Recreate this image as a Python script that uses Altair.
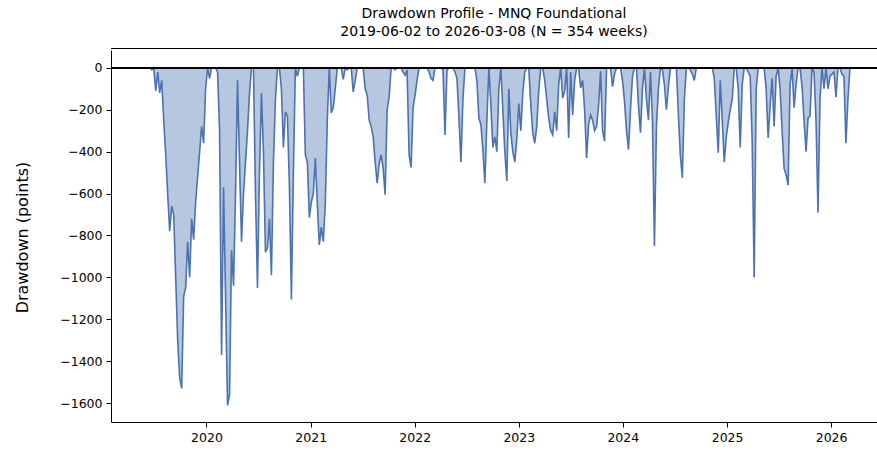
import altair as alt
import pandas as pd

# Weekly drawdown (points below the running equity peak), one list per calendar year
dd_2019 = [0, 0, 0, -10, 0, -110, -20, -120, -60, -250, -415, -605, -780, -660, -700,
           -1000, -1300, -1480, -1530, -1090, -1050, -830, -1000, -720, -820, -640, -520,
           -400, -280, -360, -100]
dd_2020 = [0, -50, 0, 0, 0, -20, -300, -1370, -570, -1100, -1610, -1560, -870, -1040,
           -600, -60, -450, -830, -600, -450, -300, -120, 0, 0, -600, -1050, -500, -120,
           -400, -880, -860, -720, -990, -450, -150, 0, 0, -100, -380, -210, -230, -560,
           -1105, -500, 0, -40, 0, 0, 0, -415, -450, -715]
dd_2021 = [-640, -600, -430, -650, -845, -760, -830, -650, -250, 0, -215, -190, -100, 0,
           0, 0, -55, 0, -10, 0, 0, -115, -60, 0, 0, 0, 0, -100, -130, -250, -280, -330,
           -450, -550, -460, -415, -480, -605, -200, -140, 0, 0, -10, 0, 0, 0, -20, -35,
           -10, -415, -475, -190]
dd_2022 = [-130, -60, 0, 0, 0, 0, 0, -20, -50, -60, 0, 0, 0, 0, -10, -320, -10, 0, 0, 0,
           -20, -50, -240, -450, -150, 0, 0, 0, 0, 0, 0, -60, -240, -270, -390, -550, -250,
           0, -175, -380, -330, -400, -100, 0, -200, -400, -540, -100, -310, -400, -450,
           -340]
dd_2023 = [-170, -300, -120, -20, 0, 0, -175, -310, -360, -280, -110, 0, 0, -60, -150,
           -240, -300, -320, -210, -300, -80, 0, -145, -110, 0, -335, -20, -225, -60, 0, 0,
           -95, -60, -200, -430, -270, -225, -250, -300, -280, -180, -15, -300, -350, 0, 0,
           0, -90, -30, 0, 0, 0]
dd_2024 = [-60, -160, -300, -390, -200, -40, 0, 0, -180, -310, -100, 0, -150, -250, -20,
           -250, -850, -280, -100, 0, -10, -80, -200, -90, 0, 0, 0, 0, -220, -420, -525,
           -150, 0, 0, -10, -30, -60, 0, 0, 0, 0, 0, 0, 0, 0, 0, -50, -230, -405, -60, -250,
           -450]
dd_2025 = [-330, -260, -200, -150, 0, 0, -100, -380, -80, 0, 0, -20, -40, -350, -1000,
           -100, 0, 0, 0, 0, -100, -335, -180, -50, -280, -40, 0, -100, -300, -480, -510,
           -560, -80, 0, -190, -80, 0, 0, -90, -250, -400, -240, -230, 0, -20, -250, -690,
           -150, 0, -100, 0, -100]
dd_2026 = [-40, -30, -20, -140, 0, 0, -30, -40, -360, -150, 0]

drawdown = dd_2019 + dd_2020 + dd_2021 + dd_2022 + dd_2023 + dd_2024 + dd_2025 + dd_2026
weeks = pd.date_range("2019-06-02", periods=len(drawdown), freq="7D")
df = pd.DataFrame({"week": weeks, "drawdown": drawdown})

year_ticks = [alt.DateTime(year=y, month=1, date=1) for y in range(2020, 2027)]
y_ticks = list(range(-1600, 1, 200))

FONT = "DejaVu Sans"
LINE = "#4C72B0"
PLOT_W, PLOT_H = 766, 372

x_enc = alt.X(
    "week:T",
    scale=alt.Scale(domain=[alt.DateTime(year=2019, month=1, date=31),
                            alt.DateTime(year=2026, month=6, date=11)]),
    axis=alt.Axis(values=year_ticks, format="%Y", title=None, grid=False,
                  domainColor="black", domainWidth=1, tickColor="black", tickWidth=1,
                  tickSize=5, labelFontSize=12.5, labelFont=FONT, labelColor="black",
                  labelPadding=4, labelFlush=False),
)
y_enc = alt.Y(
    "drawdown:Q",
    scale=alt.Scale(domain=[-1690, 85], nice=False, zero=False),
    axis=alt.Axis(values=y_ticks, format="d", title="Drawdown (points)", grid=False,
                  domainColor="black", domainWidth=1, tickColor="black", tickWidth=1,
                  tickSize=5, labelFontSize=12.5, labelFont=FONT, labelColor="black",
                  labelPadding=4, titleFont=FONT, titleFontSize=16,
                  titleFontWeight="normal", titleColor="black",
                  titleX=-81, titleY=PLOT_H / 2 + 1, titleAngle=270,
                  titleAlign="center", titleBaseline="bottom"),
)

base = alt.Chart(df)
area = base.mark_area(color=LINE, opacity=0.4).encode(x=x_enc, y=y_enc, y2=alt.datum(0))
line = base.mark_line(color=LINE, strokeWidth=1.6).encode(x=x_enc, y=y_enc)
zero = alt.Chart(df).mark_rule(color="black", strokeWidth=1).encode(y=alt.datum(0))
top = alt.Chart(df).mark_rule(color="black", strokeWidth=1).encode(
    x=alt.value(0), x2=alt.value(PLOT_W), y=alt.value(-1.5))

chart = (
    alt.layer(area, line, zero, top)
    .properties(
        width=PLOT_W,
        height=PLOT_H,
        title=alt.Title(
            ["Drawdown Profile - MNQ Foundational",
             "2019-06-02 to 2026-03-08 (N = 354 weeks)"],
            font=FONT, fontSize=14, fontWeight="normal", color="black",
            anchor="middle", offset=9, lineHeight=18),
        autosize=alt.AutoSizeParams(type="none"),
        padding={"left": 111, "top": 50, "right": 0, "bottom": 33},
        background="white",
    )
    .configure_view(strokeWidth=0)
)

chart.save("out.html", embed_options={"renderer": "svg", "actions": False})
